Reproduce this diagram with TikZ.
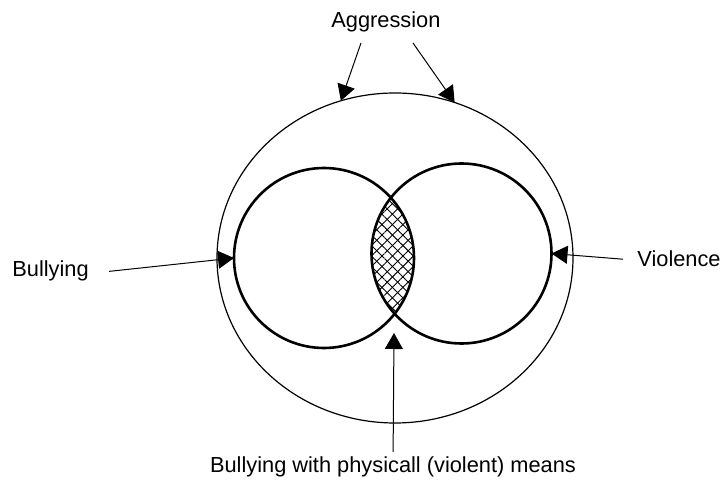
\documentclass[tikz,border=0pt]{standalone}
\usepackage{fontspec}
\setmainfont{Liberation Sans}
\usetikzlibrary{arrows.meta,positioning,shapes.geometric,patterns.meta}

\tikzset{
  ring/.style={draw, circle, line width=1.3pt, minimum size=90pt, inner sep=0pt, outer sep=0pt},
  lbl/.style={font=\fontsize{10.9}{13}\selectfont, inner sep=2pt},
  pointer/.style={-{Triangle[length=8pt,width=9pt]}, line width=0.5pt},
  hatch/.style={pattern={Lines[angle=#1,distance=3.7pt,line width=0.45pt]}},
}

\begin{document}
\begin{tikzpicture}[x=0.5pt, y=-0.5pt]
\useasboundingbox (0,0) rectangle (724,481);
\coordinate (cl) at (324,258);
\coordinate (cr) at (461.5,253.5);
% overlap of the two rings
\begin{scope}
\clip (cl) circle[radius=90];
\fill[hatch=45] (cr) circle[radius=90];
\fill[hatch=-45] (cr) circle[radius=90];
\end{scope}
\node[draw, ellipse, line width=0.6pt, minimum width=178pt, minimum height=165pt, inner sep=0pt, outer sep=0pt] (outer) at (395,258) {};
\node[ring] (bully) at (cl) {};
\node[ring] (viol) at (cr) {};

\node[lbl, anchor=base west] (aggl) at (327,28) {Aggression};
\node[lbl, anchor=base west] (bullyl) at (8,277) {Bullying};
\node[lbl, anchor=base west] (violl) at (633,267) {Violence};
\node[lbl, anchor=base] (meansl) at (393,472) {Bullying with physicall (violent) means};

\coordinate (a1) at (361,43);
\coordinate (a2) at (413,43);
\coordinate (lens) at (394,333);
\draw[pointer] (a1) -- (outer.109.8);
\draw[pointer] (a2) -- (outer.69.6);
\draw[pointer] ([xshift=8pt]bullyl.east) -- (bully.west);
\draw[pointer] ([xshift=-5pt]violl.west) -- (viol.east);
\draw[pointer] (meansl) -- (lens);
\end{tikzpicture}
\end{document}
